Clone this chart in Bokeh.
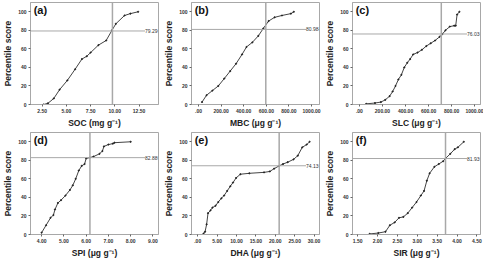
from bokeh.plotting import figure
from bokeh.layouts import gridplot
from bokeh.models import Range1d, FixedTicker, Span, Label
from bokeh.embed import file_html
from bokeh.resources import INLINE

# ---- data ----
soc_x = [2.65, 3.1, 3.7, 4.3, 5.1, 5.9, 6.6, 7.1, 7.5, 8.3, 9.1, 9.7, 10.1, 11.0, 11.6, 12.4]
soc_y = [0, 1.3, 6.5, 16, 26, 38, 49, 52, 56, 64, 69, 80, 87, 96, 98, 100]

mbc_x = [31, 71, 123, 175, 228, 280, 332, 385, 424, 476, 529, 573, 620, 673, 738, 817, 843]
mbc_y = [2.6, 10, 15, 20, 28, 36, 44, 54, 62, 67, 74, 82, 90, 94, 96, 98, 100]

slc_x = [59, 135, 186, 224, 262, 288, 313, 338, 364, 389, 415, 440, 466, 504, 542, 580, 618,
         656, 695, 720, 746, 784, 822, 835, 847, 867]
slc_y = [0.7, 1.6, 2.6, 5, 9, 14, 20, 27, 32, 40, 45, 49, 54, 56, 59, 63, 66,
         69, 73, 76, 80, 84, 85, 85, 97, 100]

spi_x = [4.0, 4.2, 4.4, 4.53, 4.6, 4.73, 4.87, 5.07, 5.27, 5.4, 5.53, 5.67, 5.8, 5.93, 6.0,
         6.17, 6.33, 6.6, 6.73, 6.8, 7.0, 7.2, 7.27, 8.0]
spi_y = [2, 10, 18, 21, 27, 34, 37, 42, 48, 53, 60, 69, 74, 76, 82,
         83, 84, 87, 90, 95, 97, 98, 99, 100]

dha_x = [1.5, 1.9, 2.3, 2.66, 3.3, 3.8, 4.6, 5.3, 6.1, 6.8, 7.6, 8.4, 9.1, 9.9, 11.0, 13.3,
         17.1, 18.6, 19.7, 21.0, 22.0, 23.2, 24.7, 25.8, 26.95, 28.1, 28.85]
dha_y = [1, 3, 11, 23, 26, 29, 31, 35, 39, 42, 47, 52, 56, 61, 65, 66,
         67, 68, 71, 74, 76, 78, 81, 85, 94, 97, 100]

sir_x = [1.8, 2.02, 2.2, 2.31, 2.43, 2.54, 2.65, 2.76, 2.87, 2.98, 3.09, 3.17, 3.24, 3.31,
         3.43, 3.54, 3.65, 3.71, 3.83, 3.94, 4.02, 4.17]
sir_y = [0.6, 1.6, 3, 10, 13, 18, 19, 23, 29, 35, 42, 47, 58, 66,
         73, 76, 79, 82, 87, 92, 94, 100]

panels = [
    dict(tag="(a)", xlabel="SOC (mg g\u207b\u00b9)", x=soc_x, y=soc_y, xr=(1.3, 14.5),
         ticks=[2.5, 5.0, 7.5, 10.0, 12.5], tlabels=["2.50", "5.00", "7.50", "10.00", "12.50"],
         vline=9.75, hline=79.29, hlabel="79.29"),
    dict(tag="(b)", xlabel="MBC (\u03bcg g\u207b\u00b9)", x=mbc_x, y=mbc_y, xr=(-62, 1070),
         ticks=[0, 200, 400, 600, 800, 1000], tlabels=[".00", "200.00", "400.00", "600.00", "800.00", "1000.00"],
         vline=595, hline=80.98, hlabel="80.98"),
    dict(tag="(c)", xlabel="SLC (\u03bcg g\u207b\u00b9)", x=slc_x, y=slc_y, xr=(-60, 1050),
         ticks=[0, 200, 400, 600, 800, 1000], tlabels=[".00", "200.00", "400.00", "600.00", "800.00", "1000.00"],
         vline=710, hline=76.03, hlabel="76.03"),
    dict(tag="(d)", xlabel="SPI (\u03bcg g\u207b\u00b9)", x=spi_x, y=spi_y, xr=(3.5, 9.25),
         ticks=[4, 5, 6, 7, 8, 9], tlabels=["4.00", "5.00", "6.00", "7.00", "8.00", "9.00"],
         vline=6.17, hline=82.88, hlabel="82.88"),
    dict(tag="(e)", xlabel="DHA (\u03bcg g\u207b\u00b9)", x=dha_x, y=dha_y, xr=(-1.6, 31.4),
         ticks=[0, 5, 10, 15, 20, 25, 30], tlabels=[".00", "5.00", "10.00", "15.00", "20.00", "25.00", "30.00"],
         vline=21.0, hline=74.13, hlabel="74.13"),
    dict(tag="(f)", xlabel="SIR (\u03bcg g\u207b\u00b9)", x=sir_x, y=sir_y, xr=(1.37, 4.59),
         ticks=[1.5, 2.0, 2.5, 3.0, 3.5, 4.0, 4.5], tlabels=["1.50", "2.00", "2.50", "3.00", "3.50", "4.00", "4.50"],
         vline=3.71, hline=81.93, hlabel="81.93"),
]

FONT = "Liberation Sans"
GRAY = "#a8a8a8"
figs = []
for pnl in panels:
    p = figure(width=161, height=130, output_backend="svg", toolbar_location=None,
               x_range=Range1d(*pnl["xr"]), y_range=Range1d(0, 110),
               min_border_left=20, min_border_right=3, min_border_top=2, min_border_bottom=22)
    p.grid.visible = False
    p.outline_line_color = GRAY
    p.background_fill_color = "white"
    p.border_fill_color = "white"

    p.xaxis.ticker = FixedTicker(ticks=pnl["ticks"])
    p.xaxis.major_label_overrides = {t: l for t, l in zip(pnl["ticks"], pnl["tlabels"])}
    p.yaxis.ticker = FixedTicker(ticks=[0, 20, 40, 60, 80, 100])
    p.xaxis.axis_label = pnl["xlabel"]
    p.yaxis.axis_label = "Percentile score"
    for ax in (p.xaxis[0], p.yaxis[0]):
        ax.axis_line_color = GRAY
        ax.major_tick_line_color = "#666666"
        ax.major_tick_out = 2
        ax.major_tick_in = 0
        ax.minor_tick_line_color = None
        ax.major_label_text_font = FONT
        ax.major_label_text_font_size = "5px"
        ax.major_label_text_font_style = "bold"
        ax.major_label_text_color = "#333333"
        ax.major_label_standoff = 2
        ax.axis_label_text_font = FONT
        ax.axis_label_text_font_size = "8.5px"
        ax.axis_label_text_font_style = "bold"
        ax.axis_label_text_color = "#222222"
        ax.axis_label_standoff = 2

    p.add_layout(Span(location=pnl["vline"], dimension="height", line_color=GRAY, line_width=1.5))
    p.add_layout(Span(location=pnl["hline"], dimension="width", line_color=GRAY, line_width=1))

    p.line(pnl["x"], pnl["y"], line_color="#444444", line_width=1)
    p.scatter(pnl["x"], pnl["y"], size=1.2, color="#222222")

    x0, x1 = pnl["xr"]
    p.add_layout(Label(x=x1, y=pnl["hline"], text=pnl["hlabel"], text_align="right",
                       text_baseline="middle", text_font=FONT, text_font_size="5px",
                       text_color="#333333", x_offset=-1, background_fill_color="white"))
    p.add_layout(Label(x=x0 + (x1 - x0) * 0.025, y=108.5, text=pnl["tag"], text_align="left",
                       text_baseline="top", text_font=FONT, text_font_size="11px",
                       text_font_style="bold", text_color="#111111"))
    figs.append(p)

grid = gridplot([figs[0:3], figs[3:6]], toolbar_location=None)

open("out.html", "w").write(file_html(grid, INLINE))
